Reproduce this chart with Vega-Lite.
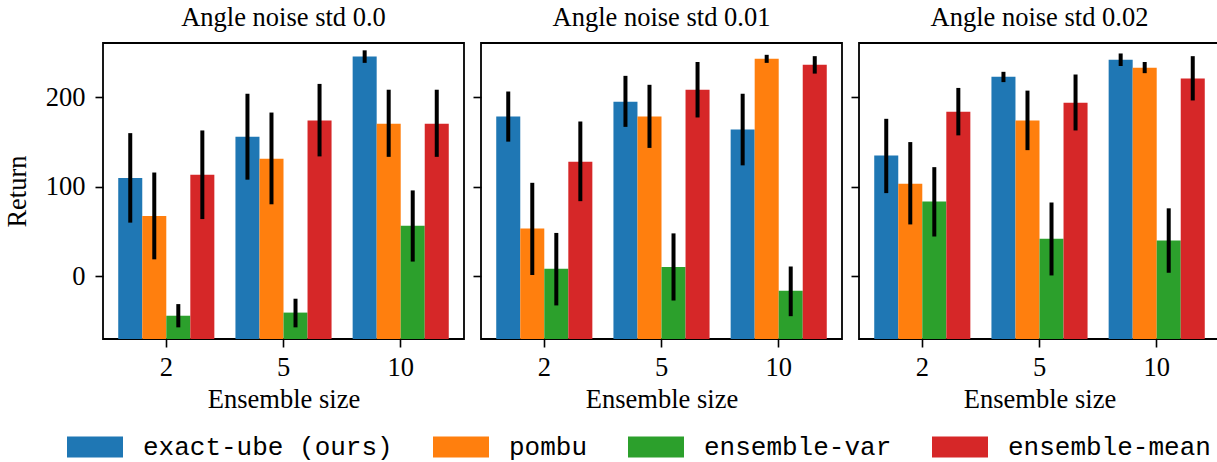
{
  "$schema": "https://vega.github.io/schema/vega-lite/v6.json",
  "autosize": {"type": "none"},
  "padding": {"left": 103, "top": 43, "right": 1114, "bottom": 419},
  "background": "white",
  "config": {
    "font": "Liberation Serif",
    "view": {"stroke": "black", "strokeWidth": 1.8},
    "axis": {
      "domain": false, "grid": false, "tickColor": "black", "tickWidth": 1.6, "tickSize": 8,
      "labelFont": "Liberation Serif", "labelFontSize": 26.5, "labelColor": "black",
      "titleFont": "Liberation Serif", "titleFontSize": 26.5, "titleFontWeight": "normal", "titleColor": "black"
    },
    "title": {"font": "Liberation Serif", "fontSize": 26.5, "fontWeight": "normal", "color": "black", "offset": 12},
    "legend": {
      "labelFont": "Liberation Mono", "labelFontSize": 26, "labelColor": "black", "labelLimit": 600
    }
  },
  "data": {"values": [
    {"noise": "0.0", "size": "2", "method": "exact-ube (ours)", "mean": 110, "lo": 60, "hi": 160},
    {"noise": "0.0", "size": "2", "method": "pombu", "mean": 67.5, "lo": 19, "hi": 116},
    {"noise": "0.0", "size": "2", "method": "ensemble-var", "mean": -44, "lo": -57, "hi": -31},
    {"noise": "0.0", "size": "2", "method": "ensemble-mean", "mean": 113.5, "lo": 64, "hi": 163},
    {"noise": "0.0", "size": "5", "method": "exact-ube (ours)", "mean": 156, "lo": 108, "hi": 204},
    {"noise": "0.0", "size": "5", "method": "pombu", "mean": 131.5, "lo": 80.5, "hi": 183},
    {"noise": "0.0", "size": "5", "method": "ensemble-var", "mean": -40.5, "lo": -57, "hi": -25},
    {"noise": "0.0", "size": "5", "method": "ensemble-mean", "mean": 174, "lo": 134, "hi": 215},
    {"noise": "0.0", "size": "10", "method": "exact-ube (ours)", "mean": 245.5, "lo": 238.5, "hi": 252.5},
    {"noise": "0.0", "size": "10", "method": "pombu", "mean": 170.5, "lo": 133.5, "hi": 208.5},
    {"noise": "0.0", "size": "10", "method": "ensemble-var", "mean": 56.5, "lo": 16.5, "hi": 96},
    {"noise": "0.0", "size": "10", "method": "ensemble-mean", "mean": 170.5, "lo": 133.5, "hi": 208.5},
    {"noise": "0.01", "size": "2", "method": "exact-ube (ours)", "mean": 178.5, "lo": 150.5, "hi": 206.5},
    {"noise": "0.01", "size": "2", "method": "pombu", "mean": 53.5, "lo": 1.5, "hi": 104.5},
    {"noise": "0.01", "size": "2", "method": "ensemble-var", "mean": 8.5, "lo": -32.5, "hi": 48.5},
    {"noise": "0.01", "size": "2", "method": "ensemble-mean", "mean": 128, "lo": 84, "hi": 173},
    {"noise": "0.01", "size": "5", "method": "exact-ube (ours)", "mean": 195, "lo": 167, "hi": 224},
    {"noise": "0.01", "size": "5", "method": "pombu", "mean": 178.5, "lo": 143.5, "hi": 214},
    {"noise": "0.01", "size": "5", "method": "ensemble-var", "mean": 10.5, "lo": -27, "hi": 48},
    {"noise": "0.01", "size": "5", "method": "ensemble-mean", "mean": 208.5, "lo": 177.5, "hi": 239.5},
    {"noise": "0.01", "size": "10", "method": "exact-ube (ours)", "mean": 164, "lo": 124, "hi": 204},
    {"noise": "0.01", "size": "10", "method": "pombu", "mean": 243, "lo": 238.5, "hi": 247.5},
    {"noise": "0.01", "size": "10", "method": "ensemble-var", "mean": -16, "lo": -44.5, "hi": 11},
    {"noise": "0.01", "size": "10", "method": "ensemble-mean", "mean": 236.5, "lo": 226.5, "hi": 246},
    {"noise": "0.02", "size": "2", "method": "exact-ube (ours)", "mean": 135, "lo": 93, "hi": 176},
    {"noise": "0.02", "size": "2", "method": "pombu", "mean": 103.5, "lo": 58, "hi": 150},
    {"noise": "0.02", "size": "2", "method": "ensemble-var", "mean": 83.5, "lo": 44.5, "hi": 122},
    {"noise": "0.02", "size": "2", "method": "ensemble-mean", "mean": 184, "lo": 157.5, "hi": 210.5},
    {"noise": "0.02", "size": "5", "method": "exact-ube (ours)", "mean": 223, "lo": 217, "hi": 228.5},
    {"noise": "0.02", "size": "5", "method": "pombu", "mean": 174, "lo": 141, "hi": 207.5},
    {"noise": "0.02", "size": "5", "method": "ensemble-var", "mean": 42, "lo": 1, "hi": 82.5},
    {"noise": "0.02", "size": "5", "method": "ensemble-mean", "mean": 194, "lo": 163, "hi": 225.5},
    {"noise": "0.02", "size": "10", "method": "exact-ube (ours)", "mean": 242, "lo": 235, "hi": 249},
    {"noise": "0.02", "size": "10", "method": "pombu", "mean": 233, "lo": 227, "hi": 239.5},
    {"noise": "0.02", "size": "10", "method": "ensemble-var", "mean": 40, "lo": 4, "hi": 76},
    {"noise": "0.02", "size": "10", "method": "ensemble-mean", "mean": 221, "lo": 196.5, "hi": 246}
  ]},
  "bounds": "flush",
  "spacing": 17,
  "resolve": {"scale": {"color": "shared"}},
  "hconcat": [
    {
      "title": "Angle noise std 0.0",
      "width": 361, "height": 296,
      "transform": [{"filter": "datum.noise === '0.0'"}],
      "encoding": {
        "x": {"field": "size", "type": "nominal", "sort": ["2", "5", "10"], "title": "Ensemble size",
              "scale": {"paddingInner": 0.18, "paddingOuter": 0.13},
              "axis": {"labelAngle": 0, "labelPadding": 7, "titlePadding": 6}},
        "xOffset": {"field": "method", "type": "nominal", "sort": ["exact-ube (ours)", "pombu", "ensemble-var", "ensemble-mean"],
                    "scale": {"paddingInner": 0, "paddingOuter": 0}}
      },
      "layer": [
        {
          "mark": {"type": "bar", "clip": true},
          "encoding": {
            "y": {"field": "mean", "type": "quantitative", "title": "Return",
                  "scale": {"domain": [-70, 260.7], "nice": false, "zero": false},
                  "axis": {"values": [0, 100, 200], "labelPadding": 10, "titlePadding": 14}},
            "y2": {"datum": -70},
            "color": {"field": "method", "type": "nominal", "sort": ["exact-ube (ours)", "pombu", "ensemble-var", "ensemble-mean"],
                      "scale": {"range": ["#1f77b4", "#ff7f0e", "#2ca02c", "#d62728"]},
                      "legend": {"title": null, "orient": "none", "legendX": -36, "legendY": 376, "direction": "horizontal", "columns": 4,
                                 "symbolType": "M-1,-0.375H1V0.375H-1Z", "symbolSize": 3136, "symbolStrokeWidth": 0, "symbolOpacity": 1,
                                 "labelOffset": 20, "columnPadding": 40}}
          }
        },
        {
          "mark": {"type": "rule", "color": "black", "strokeWidth": 4},
          "encoding": {
            "y": {"field": "lo", "type": "quantitative"},
            "y2": {"field": "hi"}
          }
        }
      ]
    },
    {
      "title": "Angle noise std 0.01",
      "width": 361, "height": 296,
      "transform": [{"filter": "datum.noise === '0.01'"}],
      "encoding": {
        "x": {"field": "size", "type": "nominal", "sort": ["2", "5", "10"], "title": "Ensemble size",
              "scale": {"paddingInner": 0.18, "paddingOuter": 0.13},
              "axis": {"labelAngle": 0, "labelPadding": 7, "titlePadding": 6}},
        "xOffset": {"field": "method", "type": "nominal", "sort": ["exact-ube (ours)", "pombu", "ensemble-var", "ensemble-mean"],
                    "scale": {"paddingInner": 0, "paddingOuter": 0}}
      },
      "layer": [
        {
          "mark": {"type": "bar", "clip": true},
          "encoding": {
            "y": {"field": "mean", "type": "quantitative", "title": null,
                  "scale": {"domain": [-70, 260.7], "nice": false, "zero": false},
                  "axis": {"values": [0, 100, 200], "labels": false}},
            "y2": {"datum": -70},
            "color": {"field": "method", "type": "nominal", "sort": ["exact-ube (ours)", "pombu", "ensemble-var", "ensemble-mean"]}
          }
        },
        {
          "mark": {"type": "rule", "color": "black", "strokeWidth": 4},
          "encoding": {
            "y": {"field": "lo", "type": "quantitative"},
            "y2": {"field": "hi"}
          }
        }
      ]
    },
    {
      "title": "Angle noise std 0.02",
      "width": 361, "height": 296,
      "transform": [{"filter": "datum.noise === '0.02'"}],
      "encoding": {
        "x": {"field": "size", "type": "nominal", "sort": ["2", "5", "10"], "title": "Ensemble size",
              "scale": {"paddingInner": 0.18, "paddingOuter": 0.13},
              "axis": {"labelAngle": 0, "labelPadding": 7, "titlePadding": 6}},
        "xOffset": {"field": "method", "type": "nominal", "sort": ["exact-ube (ours)", "pombu", "ensemble-var", "ensemble-mean"],
                    "scale": {"paddingInner": 0, "paddingOuter": 0}}
      },
      "layer": [
        {
          "mark": {"type": "bar", "clip": true},
          "encoding": {
            "y": {"field": "mean", "type": "quantitative", "title": null,
                  "scale": {"domain": [-70, 260.7], "nice": false, "zero": false},
                  "axis": {"values": [0, 100, 200], "labels": false}},
            "y2": {"datum": -70},
            "color": {"field": "method", "type": "nominal", "sort": ["exact-ube (ours)", "pombu", "ensemble-var", "ensemble-mean"]}
          }
        },
        {
          "mark": {"type": "rule", "color": "black", "strokeWidth": 4},
          "encoding": {
            "y": {"field": "lo", "type": "quantitative"},
            "y2": {"field": "hi"}
          }
        }
      ]
    }
  ]
}
